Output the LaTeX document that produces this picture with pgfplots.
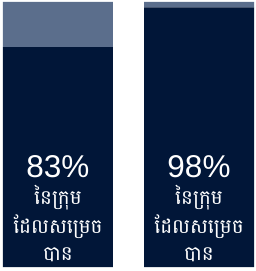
\documentclass[border=0pt]{standalone}
\usepackage{pgfplots}
\pgfplotsset{compat=1.18}
\usepackage{fontspec}
\setmainfont{Liberation Sans}
\newfontfamily\khmerfont[Script=Khmer]{Battambang}
\definecolor{darknavy}{HTML}{011638}
\definecolor{lightnavy}{HTML}{5B6E8C}
\tikzset{
  big/.style={text=white, font=\fontsize{31.5}{33}\selectfont, anchor=base, inner sep=0pt},
  km/.style={text=white, font=\khmerfont\fontsize{20}{22}\selectfont, anchor=base, inner sep=0pt, text depth=0pt},
}
\begin{document}
\begin{tikzpicture}
\begin{axis}[
  width=255pt, height=271pt, scale only axis,
  hide axis, clip=false,
  xmin=-0.411, xmax=1.397,
  ymin=-1.5, ymax=100.75,
  ybar stacked, bar width=0.78,
]
\path (rel axis cs:0,0) rectangle (rel axis cs:1,1);
\addplot[fill=darknavy, draw=none] coordinates {(0,83) (1,98)};
\addplot[fill=lightnavy, draw=none] coordinates {(0,17) (1,2)};
\coordinate (A1) at (axis cs:0,33.6);
\coordinate (B1) at (axis cs:1,33.6);
\coordinate (A2) at (axis cs:0,23.6);
\coordinate (B2) at (axis cs:1,23.6);
\coordinate (A3) at (axis cs:0,12.8);
\coordinate (B3) at (axis cs:1,12.8);
\coordinate (A4) at (axis cs:0,2.4);
\coordinate (B4) at (axis cs:1,2.4);
\end{axis}
\node[big] at (A1) {83\%};
\node[big] at (B1) {98\%};
\node[km] at (A2) {នៃក្រុម};
\node[km] at (B2) {នៃក្រុម};
\node[km] at (A3) {ដែលសម្រេច};
\node[km] at (B3) {ដែលសម្រេច};
\node[km] at (A4) {បាន};
\node[km] at (B4) {បាន};
\end{tikzpicture}
\end{document}
